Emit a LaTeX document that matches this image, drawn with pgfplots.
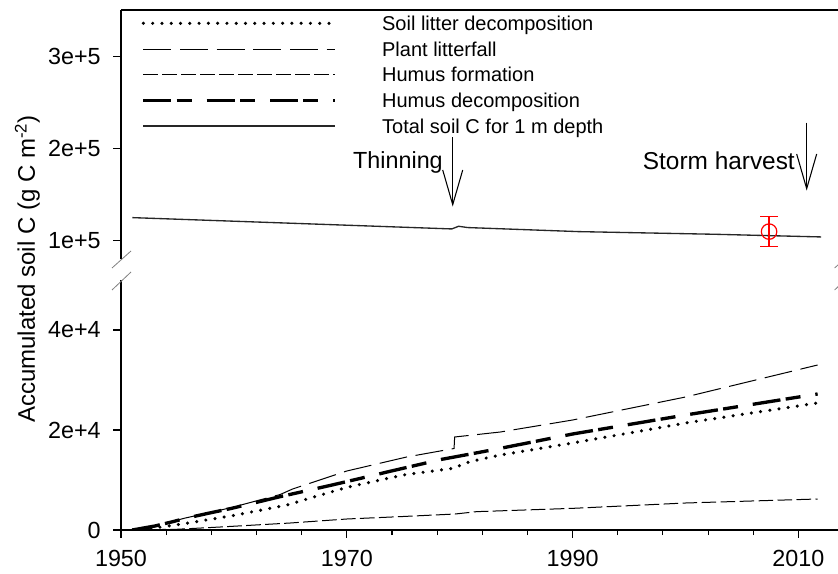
\documentclass[border=0pt]{standalone}
\usepackage{pgfplots}
\pgfplotsset{compat=1.18}
\usepackage{fontspec}
\setmainfont{Liberation Sans}
\usetikzlibrary{arrows.meta}
\newcommand\tl[1]{\mbox{\fontsize{17.5}{21}\selectfont #1}}
\pgfplotsset{
  sld/.style={black, line width=2.6pt, line cap=round, dash pattern=on 0pt off 6.96pt},
  pl/.style={black, line width=0.75pt, dash pattern=on 21pt off 6.5pt},
  hf/.style={black, line width=0.75pt, dash pattern=on 11pt off 3.25pt},
  hd/.style={black, line width=2.5pt, dash pattern=on 21pt off 4pt on 11.25pt off 11.25pt},
  tot/.style={black!85, line width=1pt},
  common/.style={
    scale only axis, width=541.95pt,
    xmin=1950, xmax=2014,
    axis line style={-, line width=1pt, black},
    tick align=outside, major tick length=5.75pt, minor tick length=3.75pt,
    tick style={black, line width=0.8pt},
    yticklabel style={xshift=-6pt},
    xticklabel style={yshift=-6pt},
    scaled y ticks=false,
  },
}
\begin{document}
\begin{tikzpicture}
\useasboundingbox (-90.75pt,-33pt) rectangle (537.75pt,397.5pt);

% ---------- lower panel ----------
\begin{axis}[common,
  at={(0pt,0pt)}, anchor=south west, height=187.5pt,
  ymin=0, ymax=50000,
  axis x line*=bottom, axis y line*=left,
  xtick={1950,1970,1990,2010}, xticklabels={\tl{1950},\tl{1970},\tl{1990},\tl{2010}},
  minor xtick={1954,1958,1962,1966,1974,1978,1982,1986,1994,1998,2002,2006},
  ytick={0,20000,40000}, yticklabels={\tl{0},\tl{2e+4},\tl{4e+4}},
]
\addplot[sld] coordinates {
(1951,0) (1953,400) (1955.8,1330) (1960.2,3000) (1964.7,5000) (1970,8530)
(1975,11000) (1979.4,12330) (1980.9,13670) (1983.6,15000) (1990,17400)
(2000,21400) (2011.7,25400)};
\addplot[pl] coordinates {
(1951,0) (1953,800) (1955.7,2400) (1957.7,3400) (1959.8,4500) (1964.1,7100)
(1965.2,8200) (1970,11800) (1975.3,14600) (1979.5,16300) (1979.55,18600)
(1983.6,19600) (1990,22000) (2000,26600) (2011.7,33000)};
\addplot[hf] coordinates {
(1951,0) (1955,150) (1958.8,600) (1965,1400) (1970,2200) (1974.7,2670)
(1979.6,3200) (1981.5,3670) (1990,4330) (2000,5400) (2011.7,6200)};
\addplot[hd] coordinates {
(1951,0) (1953,800) (1954.6,1670) (1955.7,2330) (1957.7,3330) (1959.8,4330)
(1964.1,6670) (1968.7,9000) (1972.1,10800) (1973.7,11670) (1978.4,14130)
(1981.6,15470) (1983.6,16330) (1990,19200) (2000,23000) (2011.7,27200)};
\end{axis}

% ---------- upper panel ----------
\begin{axis}[common,
  at={(0pt,203.025pt)}, anchor=south west, height=186.98pt,
  ymin=80000, ymax=351000,
  axis x line*=top, axis y line*=left,
  xtick=\empty,
  ytick={100000,200000,300000}, yticklabels={\tl{1e+5},\tl{2e+5},\tl{3e+5}},
  clip=false,
  legend cell align=left,
  legend image code/.code={\draw[#1] (0pt,0pt) -- (144pt,0pt);},
  legend style={at={(axis description cs:0,1)}, anchor=north west,
    xshift=15.5pt, yshift=-4.6pt, draw=none, fill=none,
    inner sep=0pt, outer sep=0pt,
    /tikz/row sep=8.48pt, /tikz/column sep=33.75pt,
    font=\fontsize{15}{18}\selectfont,
    nodes={inner sep=0pt, outer sep=0pt, text height=10.8pt, text depth=0pt}},
]
\addlegendimage{sld}
\addlegendentry{Soil litter decomposition}
\addlegendimage{pl}
\addlegendentry{Plant litterfall}
\addlegendimage{hf}
\addlegendentry{Humus formation}
\addlegendimage{hd}
\addlegendentry{Humus decomposition}
\addplot[tot] coordinates {
(1951,125300) (1966,118800) (1979.3,113000) (1979.9,115900) (1980.7,114500)
(1990.5,110100) (2002.6,107200) (2012,104300)};
\addlegendentry{Total soil C for 1 m depth}
\addplot[red, only marks, mark=o, mark size=5.8pt, mark options={solid, line width=0.9pt},
  forget plot,
  error bars/.cd, y dir=both, y explicit,
  error bar style={red, line width=0.9pt},
  error mark options={red, mark size=6.5pt, line width=0.9pt, rotate=90}]
  coordinates {(2007.4,110100) +- (0,16300)};
\draw[line width=0.8pt, -{Straight Barb[length=26pt,width=15pt]}]
  (axis cs:1979.38,212717) -- (axis cs:1979.38,137283);
\draw[line width=0.8pt, -{Straight Barb[length=26pt,width=15pt]}]
  (axis cs:2010.73,228587) -- (axis cs:2010.73,154674);
\node[anchor=base east, inner sep=0pt, font=\fontsize{17.5}{20}\selectfont]
  at (axis cs:1978.52,179000) {Thinning};
\node[anchor=base east, inner sep=0pt, font=\fontsize{18.3}{21}\selectfont]
  at (axis cs:2009.7,177174) {Storm harvest};
\end{axis}

% axis-break marks
\draw[gray, line width=0.6pt] (-6.75pt,196.5pt) -- (7.5pt,209.25pt);
\draw[gray, line width=0.6pt] (-6.75pt,180pt) -- (7.5pt,193.5pt);
\draw[gray, line width=0.6pt] (535.2pt,196.5pt) -- (549.45pt,209.25pt);
\draw[gray, line width=0.6pt] (535.2pt,180pt) -- (549.45pt,193.5pt);

% y label
\node[rotate=90, anchor=base, inner sep=0pt, font=\fontsize{18}{21}\selectfont]
  at (-64.5pt,195.75pt) {Accumulated soil C (g C m\textsuperscript{-2})};
\end{tikzpicture}
\end{document}
